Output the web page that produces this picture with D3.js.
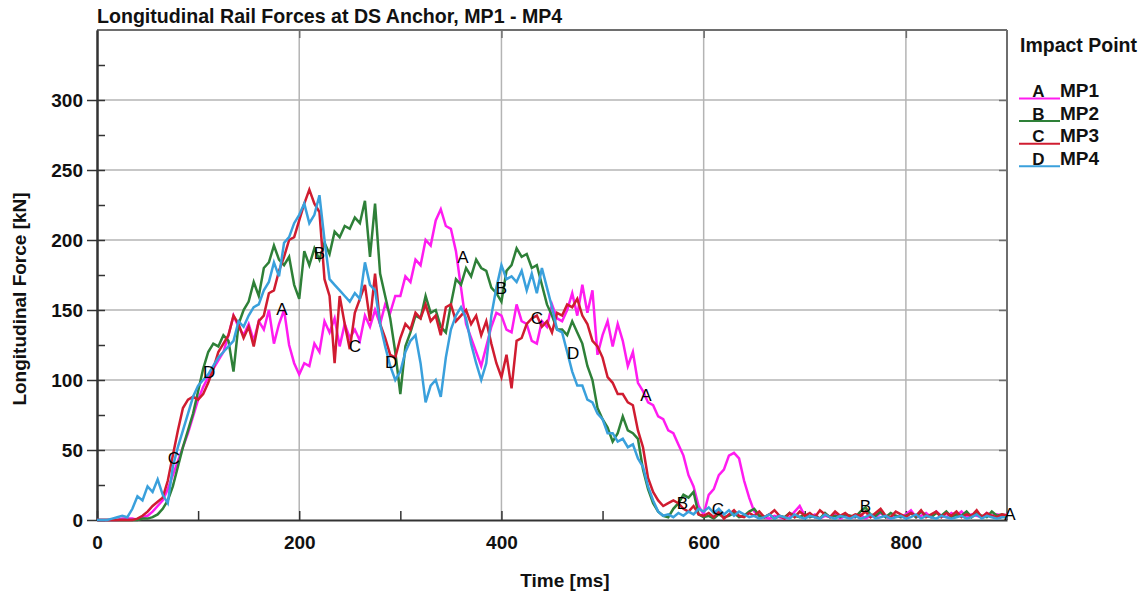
<!DOCTYPE html>
<html>
<head>
<meta charset="utf-8">
<script src="https://cdn.jsdelivr.net/npm/d3@7"></script>
<style>
  html, body { margin: 0; padding: 0; background: #fff; }
  svg { display: block; font-family: "Liberation Sans", Arial, sans-serif; }
</style>
</head>
<body>
<svg id="chart" width="1140" height="595"></svg>
<script>
// ---------- data ----------
const chartTitle = "Longitudinal Rail Forces at DS Anchor, MP1 - MP4";
const xTitle = "Time [ms]";
const yTitle = "Longitudinal Force [kN]";
const legendTitle = "Impact Point";
const seriesNames = ["MP1", "MP2", "MP3", "MP4"];
const seriesLetters = ["A", "B", "C", "D"];
const seriesColors = ["#ff1cf0", "#2e8038", "#d01c30", "#3aa0dc"];
const xTicks = [0, 200, 400, 600, 800];
const xMinorTicks = [100, 300, 500, 700];
const yTicks = [0, 50, 100, 150, 200, 250, 300];
const yMinorTicks = [25, 75, 125, 175, 225, 275, 325];

// sampling grid of the signals (ms)
const time = d3.range(0, 905, 5);

// MP1 (A) values in kN, every 5 ms, rows of 50 ms
const mp1 = [
  0,0,0,0,0,1,1,1,0,2,
  3,6,10,14,22,32,42,52,62,74,
  86,95,102,108,114,120,132,146,138,132,
  140,128,142,136,150,126,140,150,125,112,
  104,112,110,126,120,142,134,144,124,140,
  130,136,128,146,138,150,140,154,148,160,
  160,174,170,186,182,200,196,214,222,210,
  208,192,166,140,130,120,110,124,138,148,
  146,136,134,154,142,140,128,126,142,138,
  154,144,142,150,162,146,168,148,164,118,
  132,142,124,140,128,110,120,98,92,84,
  82,74,72,64,62,54,46,32,24,10,
  4,18,22,32,36,46,48,44,28,16,
  6,3,2,1,3,2,1,2,6,10,
  3,2,4,1,3,2,5,1,3,2,
  2,4,1,3,2,5,2,1,3,2,
  4,7,2,3,5,2,6,3,2,5,
  3,6,2,4,3,2,5,3,4,3,
  4
];
// MP2 (B)
const mp2 = [
  0,0,0,0,0,0,0,0,0,1,
  1,2,4,8,14,24,38,52,64,76,
  92,108,120,126,124,132,128,106,140,150,
  156,170,160,180,184,196,186,182,188,168,
  158,192,182,194,186,198,190,206,202,210,
  208,216,212,228,188,226,176,160,144,120,
  90,124,134,146,144,160,148,150,138,134,
  154,172,168,180,174,186,180,178,166,162,
  156,178,182,194,188,190,180,182,168,154,
  146,136,136,132,142,134,126,110,100,80,
  72,66,56,62,74,64,62,58,36,22,
  12,6,3,2,8,12,18,16,20,4,
  2,3,1,4,2,3,5,2,3,6,
  8,3,2,4,1,3,2,5,3,2,
  4,2,3,1,5,2,3,2,4,3,
  2,6,9,4,3,6,2,5,3,2,
  3,5,2,6,3,2,5,3,6,2,
  4,3,6,2,5,3,2,6,3,4,
  3
];
// MP3 (C)
const mp3 = [
  0,0,0,0,0,0,0,0,1,3,
  6,10,13,16,28,46,64,80,86,88,
  86,90,98,108,120,126,132,146,140,130,
  138,124,142,146,162,164,178,188,200,202,
  214,226,236,226,220,172,160,112,160,140,
  122,148,158,168,142,176,140,130,118,116,
  130,140,136,148,144,154,142,146,132,152,
  154,142,146,150,140,146,132,142,126,112,
  102,118,94,128,130,140,144,146,138,142,
  134,148,146,154,152,158,146,140,128,124,
  116,102,98,90,90,84,82,64,52,30,
  20,14,10,12,14,12,8,6,10,4,
  3,5,2,6,1,4,7,3,2,5,
  3,6,2,4,7,3,1,5,2,6,
  3,5,2,7,4,2,6,3,5,2,
  4,3,6,2,5,8,3,2,6,4,
  2,5,3,7,2,4,6,2,5,3,
  6,2,4,3,7,2,5,3,2,4,
  3
];
// MP4 (D)
const mp4 = [
  0,0,0,1,2,3,2,8,17,14,
  24,20,29,18,12,38,52,64,76,88,
  96,100,104,110,116,120,124,128,142,138,
  146,152,154,164,170,184,174,198,202,212,
  218,226,212,218,232,200,172,168,164,160,
  156,162,158,184,168,164,140,124,110,100,
  106,120,128,132,112,84,96,100,88,116,
  136,146,152,144,126,112,100,112,146,166,
  182,172,174,170,178,164,176,162,180,166,
  152,136,134,120,106,96,96,86,84,76,
  72,62,62,56,58,52,54,44,38,24,
  14,6,3,4,2,5,3,6,4,8,
  6,9,5,8,4,7,3,6,4,2,
  3,1,2,4,1,3,2,1,4,2,
  1,3,2,1,4,2,1,3,2,1,
  3,1,2,4,1,2,3,1,2,3,
  1,2,4,1,3,2,1,3,2,1,
  2,3,1,2,4,1,3,2,1,2,
  2
];
const seriesValues = [mp1, mp2, mp3, mp4];

// curve letter markers [time, value]
const labelsA = [[183, 151], [362, 188], [543, 89], [903, 4]];
const labelsB = [[220, 191], [400, 166], [579, 12], [760, 10]];
const labelsC = [[76, 44], [255, 124], [435, 144], [614, 8]];
const labelsD = [[111, 106], [291, 113], [471, 119]];
const seriesLabels = [labelsA, labelsB, labelsC, labelsD];

// ---------- layout ----------
const L = 97, T = 30, R = 1007, B = 520;
const FONT = 19;

const svg = d3.select("#chart");
const x = d3.scaleLinear().domain([0, 900]).range([L, R]);
const y = d3.scaleLinear().domain([0, 350]).range([B, T]);

// grid
const grid = svg.append("g");
grid.selectAll("line.h").data(yTicks.filter(v => v > 0)).join("line")
  .attr("x1", L).attr("x2", R).attr("y1", d => y(d)).attr("y2", d => y(d))
  .attr("stroke", "#b4b4b4").attr("stroke-width", 1.5);
grid.selectAll("line.v").data(xTicks.filter(v => v > 0)).join("line")
  .attr("x1", d => x(d)).attr("x2", d => x(d)).attr("y1", T).attr("y2", B)
  .attr("stroke", "#b4b4b4").attr("stroke-width", 1.5);

// frame (top/right)
svg.append("line").attr("x1", L).attr("x2", R).attr("y1", T).attr("y2", T)
  .attr("stroke", "#6e6e6e").attr("stroke-width", 2);
svg.append("line").attr("x1", R).attr("x2", R).attr("y1", T).attr("y2", B)
  .attr("stroke", "#6e6e6e").attr("stroke-width", 2);

// axes
const yAxis = svg.append("g").attr("transform", `translate(${L},0)`)
  .call(d3.axisLeft(y).tickValues(yTicks).tickSizeInner(10).tickSizeOuter(0).tickPadding(4));
const yAxisIn = svg.append("g").attr("transform", `translate(${L},0)`)
  .call(d3.axisRight(y).tickValues(yTicks.concat(yMinorTicks)).tickSizeInner(8).tickSizeOuter(0).tickFormat(""));
const xAxis = svg.append("g").attr("transform", `translate(0,${B})`)
  .call(d3.axisTop(x).tickValues(xTicks.concat(xMinorTicks)).tickSizeInner(9).tickSizeOuter(0).tickFormat(""));
const xAxisLab = svg.append("g").attr("transform", `translate(0,${B})`)
  .call(d3.axisBottom(x).tickValues(xTicks).tickSize(0).tickPadding(16));
const yAxisR = svg.append("g").attr("transform", `translate(${R},0)`)
  .call(d3.axisLeft(y).tickValues(yTicks.filter(v => v > 0)).tickSizeInner(8).tickSizeOuter(0).tickFormat(""));
const xAxisT = svg.append("g").attr("transform", `translate(0,${T})`)
  .call(d3.axisBottom(x).tickValues(xTicks.filter(v => v > 0)).tickSizeInner(8).tickSizeOuter(0).tickFormat(""));

[yAxis, yAxisIn, xAxis, xAxisLab].forEach(g => {
  g.selectAll(".domain").attr("stroke", "#333").attr("stroke-width", 2);
  g.selectAll(".tick line").attr("stroke", "#333").attr("stroke-width", 1.5);
});
[yAxisR, xAxisT].forEach(g => {
  g.selectAll(".domain").remove();
  g.selectAll(".tick line").attr("stroke", "#6e6e6e").attr("stroke-width", 1.5);
});
[yAxis, xAxisLab].forEach(g => {
  g.selectAll(".tick text")
    .attr("font-family", "'Liberation Sans', Arial, sans-serif")
    .attr("font-size", FONT).attr("font-weight", "bold").attr("fill", "#111");
});
xAxisLab.selectAll(".domain").remove();

// series
const line = d3.line().x((d, i) => x(time[i])).y(d => y(d));
seriesValues.forEach((vals, k) => {
  svg.append("path").datum(vals)
    .attr("d", line)
    .attr("fill", "none")
    .attr("stroke", seriesColors[k])
    .attr("stroke-width", 2.5)
    .attr("stroke-linejoin", "miter");
});

// curve letters
seriesLabels.forEach((labs, k) => {
  svg.append("g").selectAll("text").data(labs).join("text")
    .attr("x", d => x(d[0])).attr("y", d => y(d[1]) + 6)
    .attr("text-anchor", "middle")
    .attr("font-size", 17).attr("fill", "#000")
    .text(seriesLetters[k]);
});

// titles
svg.append("text").attr("x", L).attr("y", 23)
  .attr("font-size", 19.6).attr("font-weight", "bold").attr("fill", "#111")
  .text(chartTitle);
svg.append("text").attr("x", 565).attr("y", 587).attr("text-anchor", "middle")
  .attr("font-size", FONT).attr("font-weight", "bold").attr("fill", "#111")
  .text(xTitle);
svg.append("text").attr("transform", "translate(26,299) rotate(-90)")
  .attr("text-anchor", "middle")
  .attr("font-size", FONT).attr("font-weight", "bold").attr("fill", "#111")
  .text(yTitle);

// legend
const lg = svg.append("g");
lg.append("text").attr("x", 1020).attr("y", 52)
  .attr("font-size", 19.5).attr("font-weight", "bold").attr("fill", "#111")
  .text(legendTitle);
seriesNames.forEach((name, k) => {
  const by = 97 + k * 22.6;
  lg.append("line").attr("x1", 1019).attr("x2", 1060).attr("y1", by + 1.5).attr("y2", by + 1.5)
    .attr("stroke", seriesColors[k]).attr("stroke-width", 2);
  lg.append("text").attr("x", 1038.5).attr("y", by).attr("text-anchor", "middle")
    .attr("font-size", 17).attr("font-weight", "bold").attr("fill", "#111")
    .text(seriesLetters[k]);
  lg.append("text").attr("x", 1060).attr("y", by)
    .attr("font-size", FONT).attr("font-weight", "bold").attr("fill", "#111")
    .text(name);
});
</script>
</body>
</html>
